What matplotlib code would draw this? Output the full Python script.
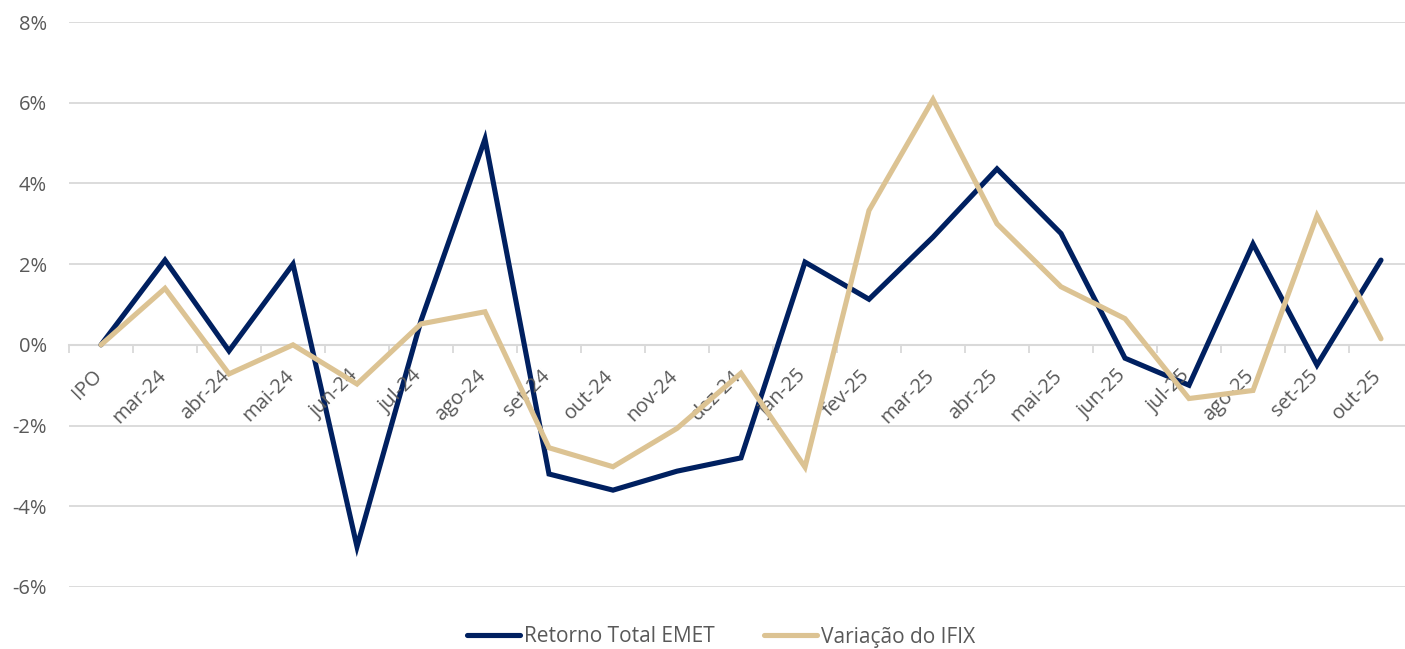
import matplotlib
matplotlib.use("Agg")
import matplotlib.pyplot as plt
import numpy as np
from matplotlib.ticker import FuncFormatter, FixedLocator

# data (monthly return, %)
meses = ["IPO", "mar-24", "abr-24", "mai-24", "jun-24", "jul-24", "ago-24", "set-24",
         "out-24", "nov-24", "dez-24", "jan-25", "fev-25", "mar-25", "abr-25", "mai-25",
         "jun-25", "jul-25", "ago-25", "set-25", "out-25"]
retorno_emet = [0.0, 2.1, -0.15, 2.0, -5.0, 0.6, 5.1, -3.2, -3.6, -3.13, -2.8,
                2.05, 1.13, 2.67, 4.36, 2.76, -0.33, -1.0, 2.5, -0.5, 2.1]
variacao_ifix = [0.0, 1.4, -0.72, 0.0, -0.97, 0.52, 0.82, -2.55, -3.02, -2.07, -0.7,
                 -3.03, 3.33, 6.08, 3.0, 1.44, 0.65, -1.33, -1.13, 3.2, 0.15]
y_ticks = [-6, -4, -2, 0, 2, 4, 6, 8]

navy = "#002060"
tan = "#DCC393"
grid_c = "#D9D9D9"
txt_c = "#595959"
fs = 14.5

plt.rcParams["font.family"] = ["Open Sans", "DejaVu Sans"]

W, H = 1405, 649
fig = plt.figure(figsize=(W / 100, H / 100), dpi=100)
ax = fig.add_axes([69 / W, 1 - 587 / H, 1344 / W, (587 - 22) / H])

x = np.arange(len(meses))
ax.plot(x, retorno_emet, color=navy, lw=3.7, solid_capstyle="round",
        solid_joinstyle="miter", label="Retorno Total EMET", zorder=3)
ax.plot(x, variacao_ifix, color=tan, lw=3.7, solid_capstyle="round",
        solid_joinstyle="miter", label="Variação do IFIX", zorder=4)

ax.set_xlim(-0.5, len(meses) - 0.5)
ax.set_ylim(-6, 8)
ax.yaxis.set_major_locator(FixedLocator(y_ticks))
ax.yaxis.set_major_formatter(FuncFormatter(lambda v, p: f"{v:.0f}%"))
ax.grid(axis="y", color=grid_c, lw=1.3, zorder=0)
ax.tick_params(axis="y", length=0, pad=16, labelsize=fs, labelcolor=txt_c)

for s in ["top", "right", "left"]:
    ax.spines[s].set_visible(False)
ax.spines["bottom"].set_position(("data", 0))
ax.spines["bottom"].set_color(grid_c)
ax.spines["bottom"].set_linewidth(1.5)
ax.spines["bottom"].set_zorder(1)

ax.set_xticks(np.arange(-0.5, len(meses), 1.0))
ax.set_xticklabels([])
ax.tick_params(axis="x", length=6, width=1.3, color=grid_c, direction="out")

for i, m in enumerate(meses):
    ax.annotate(m, (i, 0), xytext=(5, -21), textcoords="offset pixels",
                rotation=45, ha="right", va="top", fontsize=fs, color=txt_c)

fig.legend(loc="center", bbox_to_anchor=(721 / W, 1 - 637 / H), ncol=2, frameon=False,
           fontsize=15, labelcolor=txt_c, handlelength=2.55, handletextpad=0.2,
           columnspacing=2.35)

fig.savefig("out.png", dpi=100)
